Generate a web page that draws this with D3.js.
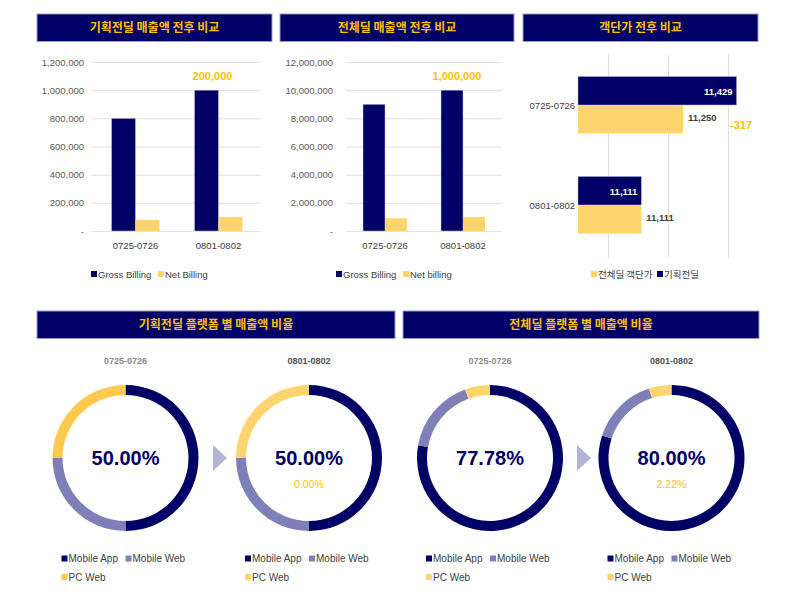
<!DOCTYPE html>
<html>
<head>
<meta charset="UTF-8">
<title></title>
<style type="text/css">
  body { margin: 0; background: #fff; }
  svg text { font-family: "Liberation Sans", "Noto Sans CJK KR", sans-serif; }
  .kr { font-family: "Noto Sans CJK KR", "Liberation Sans", sans-serif; }
</style>
</head>
<body>
<div id="chart"></div>
<script src="https://cdn.jsdelivr.net/npm/d3@7"></script>
<script type="text/javascript">
// 데이터
var periods = ["0725-0726", "0801-0802"];
var planGross = [800000, 1000000];
var planNet = [80000, 100000];
var allGross = [9000000, 10000000];
var allNet = [900000, 1000000];
var aovAll = [11250, 11111.11];
var aovPlan = [11428.57, 11111.11];
var platforms = ["Mobile App", "Mobile Web", "PC Web"];
var planShare = [[50, 25, 25], [50, 25, 25]];
var allShare = [[77.78, 16.67, 5.55], [80, 15, 5]];

var NAVY = "#000066", YEL = "#FFD36E", ORANGE = "#FFC000", PURP = "#8080B8";

var svg = d3.select("#chart").append("svg")
  .attr("width", 800).attr("height", 601);

// 음수는 하이픈으로
var fmt = function(v) { return d3.format(",.0f")(v).replace("\u2212", "-"); };

// 헤더
function header(x0, x1, y, title) {
  svg.append("rect").attr("x", x0).attr("y", y).attr("width", x1 - x0).attr("height", 27.5)
    .attr("fill", NAVY).attr("stroke", "#9a9ac8").attr("stroke-width", 1);
  svg.append("text").attr("class", "kr").attr("x", (x0 + x1) / 2).attr("y", y + 18)
    .attr("text-anchor", "middle").attr("fill", ORANGE)
    .attr("font-size", 12).attr("font-weight", "bold").text(title);
}

header(37, 272, 14, "기획전딜 매출액 전후 비교");
header(280, 514, 14, "전체딜 매출액 전후 비교");
header(523, 758, 14, "객단가 전후 비교");
header(37, 395, 311, "기획전딜 플랫폼 별 매출액 비율");
header(403, 759, 311, "전체딜 플랫폼 별 매출액 비율");

// 세로 막대 차트
function barChart(opt) {
  var g = svg.append("g");
  var y = d3.scaleLinear().domain([0, opt.max]).range([231, 62]);
  var x = d3.scaleBand().domain(periods).range(opt.band);
  var ticks = d3.range(0, opt.max + 1, opt.max / 6);

  g.selectAll(".grid").data(ticks).enter().append("line")
    .attr("x1", opt.grid[0]).attr("x2", opt.grid[1])
    .attr("y1", function(d) { return y(d) + 0.5; }).attr("y2", function(d) { return y(d) + 0.5; })
    .attr("stroke", "#e2e2e2");

  g.selectAll(".tick").data(ticks).enter().append("text")
    .attr("x", opt.labelX).attr("y", function(d) { return y(d) + 3.5; })
    .attr("text-anchor", "end").attr("font-size", 9.5).attr("fill", "#595959")
    .text(function(d) { return d === 0 ? "-" : d3.format(",")(d); });

  var bw = opt.bw;
  g.selectAll(".gross").data(opt.gross).enter().append("rect")
    .attr("x", function(d, i) { return x(periods[i]) + x.bandwidth() / 2 - bw; })
    .attr("y", function(d) { return y(d); })
    .attr("width", bw).attr("height", function(d) { return y(0) - y(d); })
    .attr("fill", NAVY).attr("stroke", "#c8c8e6").attr("stroke-width", 0.5);
  g.selectAll(".net").data(opt.net).enter().append("rect")
    .attr("x", function(d, i) { return x(periods[i]) + x.bandwidth() / 2; })
    .attr("y", function(d) { return y(d); })
    .attr("width", bw).attr("height", function(d) { return y(0) - y(d); })
    .attr("fill", YEL);

  g.selectAll(".xl").data(periods).enter().append("text")
    .attr("x", function(d) { return x(d) + x.bandwidth() / 2; }).attr("y", 249)
    .attr("text-anchor", "middle").attr("font-size", 9.5).attr("fill", "#404040")
    .text(function(d) { return d; });

  // 증감 라벨
  g.append("text").attr("x", x(periods[1]) + x.bandwidth() / 2 - 6).attr("y", 80)
    .attr("text-anchor", "middle").attr("font-size", 11).attr("font-weight", "bold")
    .attr("fill", ORANGE).text(fmt(opt.gross[1] - opt.gross[0]));

  // 범례
  var lg = g.append("g").attr("transform", "translate(" + opt.legendX + ",277.5)");
  lg.append("rect").attr("x", 0).attr("y", -6.5).attr("width", 6).attr("height", 6).attr("fill", NAVY);
  lg.append("text").attr("x", 7).attr("y", 0).attr("font-size", 9.5).attr("fill", "#404040").text("Gross Billing");
  lg.append("rect").attr("x", 67).attr("y", -6.5).attr("width", 6).attr("height", 6).attr("fill", YEL);
  lg.append("text").attr("x", 74).attr("y", 0).attr("font-size", 9.5).attr("fill", "#404040").text(opt.netName);
}

barChart({ max: 1200000, band: [94, 260], grid: [91, 261], labelX: 84, bw: 24,
  gross: planGross, net: planNet, legendX: 91, netName: "Net Billing" });
barChart({ max: 12000000, band: [346, 502], grid: [346, 502], labelX: 333, bw: 22,
  gross: allGross, net: allNet, legendX: 336, netName: "Net billing" });

// 가로 막대 차트 (객단가)
(function() {
  var g = svg.append("g");
  var x = d3.scaleLinear().domain([10900, 11500]).range([578, 758]);
  var y = d3.scaleBand().domain(periods).range([55, 255]);
  var bh = 28.5;

  g.selectAll(".grid").data(x.ticks(3)).enter().append("line")
    .attr("x1", function(d) { return x(d) + 0.5; }).attr("x2", function(d) { return x(d) + 0.5; })
    .attr("y1", 55).attr("y2", 257).attr("stroke", "#dcdcdc");

  g.selectAll(".plan").data(aovPlan).enter().append("rect")
    .attr("x", x(10900)).attr("y", function(d, i) { return y(periods[i]) + y.bandwidth() / 2 - bh; })
    .attr("width", function(d) { return x(d) - x(10900); }).attr("height", bh)
    .attr("fill", NAVY).attr("stroke", "#b0b0d8").attr("stroke-width", 0.5);
  g.selectAll(".all").data(aovAll).enter().append("rect")
    .attr("x", x(10900)).attr("y", function(d, i) { return y(periods[i]) + y.bandwidth() / 2; })
    .attr("width", function(d) { return x(d) - x(10900); }).attr("height", bh)
    .attr("fill", YEL);

  g.selectAll(".planL").data(aovPlan).enter().append("text")
    .attr("x", function(d) { return x(d) - 4; })
    .attr("y", function(d, i) { return y(periods[i]) + y.bandwidth() / 2 - bh / 2 + 4; })
    .attr("text-anchor", "end").attr("font-size", 9.5).attr("font-weight", "bold").attr("fill", "#fff")
    .text(function(d) { return fmt(d); });
  g.selectAll(".allL").data(aovAll).enter().append("text")
    .attr("x", function(d) { return x(d) + 5; })
    .attr("y", function(d, i) { return y(periods[i]) + y.bandwidth() / 2 + bh / 2 + 2; })
    .attr("font-size", 9.5).attr("font-weight", "bold").attr("fill", "#404040")
    .text(function(d) { return fmt(d); });

  g.append("text").attr("x", 730).attr("y", 129).attr("font-size", 11).attr("font-weight", "bold")
    .attr("fill", ORANGE).text(fmt(aovPlan[1] - aovPlan[0]));

  g.selectAll(".yl").data(periods).enter().append("text")
    .attr("x", 575).attr("y", function(d) { return y(d) + y.bandwidth() / 2 + 3.5; })
    .attr("text-anchor", "end").attr("font-size", 9.5).attr("fill", "#404040")
    .text(function(d) { return d; });

  var lg = g.append("g").attr("transform", "translate(591,277.5)");
  lg.append("rect").attr("x", 0).attr("y", -6.5).attr("width", 6).attr("height", 6).attr("fill", YEL);
  lg.append("text").attr("class", "kr").attr("x", 7).attr("y", 0).attr("font-size", 9.5).attr("fill", "#404040").text("전체딜 객단가");
  lg.append("rect").attr("x", 66).attr("y", -6.5).attr("width", 6).attr("height", 6).attr("fill", NAVY);
  lg.append("text").attr("class", "kr").attr("x", 73).attr("y", 0).attr("font-size", 9.5).attr("fill", "#404040").text("기획전딜");
})();

// 도넛 차트
var pie = d3.pie().sort(null).value(function(d) { return d; });
var arc = d3.arc().innerRadius(63).outerRadius(73);

function donut(cx, share, colors, title, titleColor, sub) {
  var g = svg.append("g").attr("transform", "translate(" + cx + ",458)");
  g.selectAll("path").data(pie(share)).enter().append("path")
    .attr("d", arc).attr("fill", function(d, i) { return colors[i]; });
  g.append("text").attr("y", -94).attr("text-anchor", "middle").attr("font-size", 9)
    .attr("font-weight", "bold").attr("fill", titleColor).text(title);
  g.append("text").attr("y", 7).attr("text-anchor", "middle").attr("font-size", 20)
    .attr("font-weight", "bold").attr("fill", NAVY).text(share[0].toFixed(2) + "%");
  if (sub !== null) {
    g.append("text").attr("y", 30).attr("text-anchor", "middle").attr("font-size", 10.5)
      .attr("fill", ORANGE).text(sub.toFixed(2) + "%");
  }
  var lg = g.selectAll(".lg").data(platforms).enter().append("g")
    .attr("transform", function(d, i) {
      return "translate(" + (i === 1 ? 0 : -64) + "," + (i === 2 ? 122.5 : 104) + ")";
    });
  lg.append("rect").attr("x", 0).attr("y", -6.5).attr("width", 6).attr("height", 6)
    .attr("fill", function(d, i) { return colors[i]; });
  lg.append("text").attr("x", 7).attr("y", 0).attr("font-size", 10).attr("fill", "#404040")
    .text(function(d) { return d; });
}

function arrow(x0) {
  svg.append("path").attr("d", d3.line()([[x0, 445], [x0, 471], [x0 + 14, 458]]) + "Z")
    .attr("fill", "#b4b4d6");
}

donut(125.5, planShare[0], [NAVY, PURP, "#FFC94F"], periods[0], "#8a8a8a", null);
donut(309, planShare[1], [NAVY, PURP, YEL], periods[1], "#505050", planShare[1][0] - planShare[0][0]);
donut(490, allShare[0], [NAVY, PURP, YEL], periods[0], "#8a8a8a", null);
donut(671.5, allShare[1], [NAVY, PURP, YEL], periods[1], "#505050", allShare[1][0] - allShare[0][0]);
arrow(213);
arrow(577);
</script>
</body>
</html>
